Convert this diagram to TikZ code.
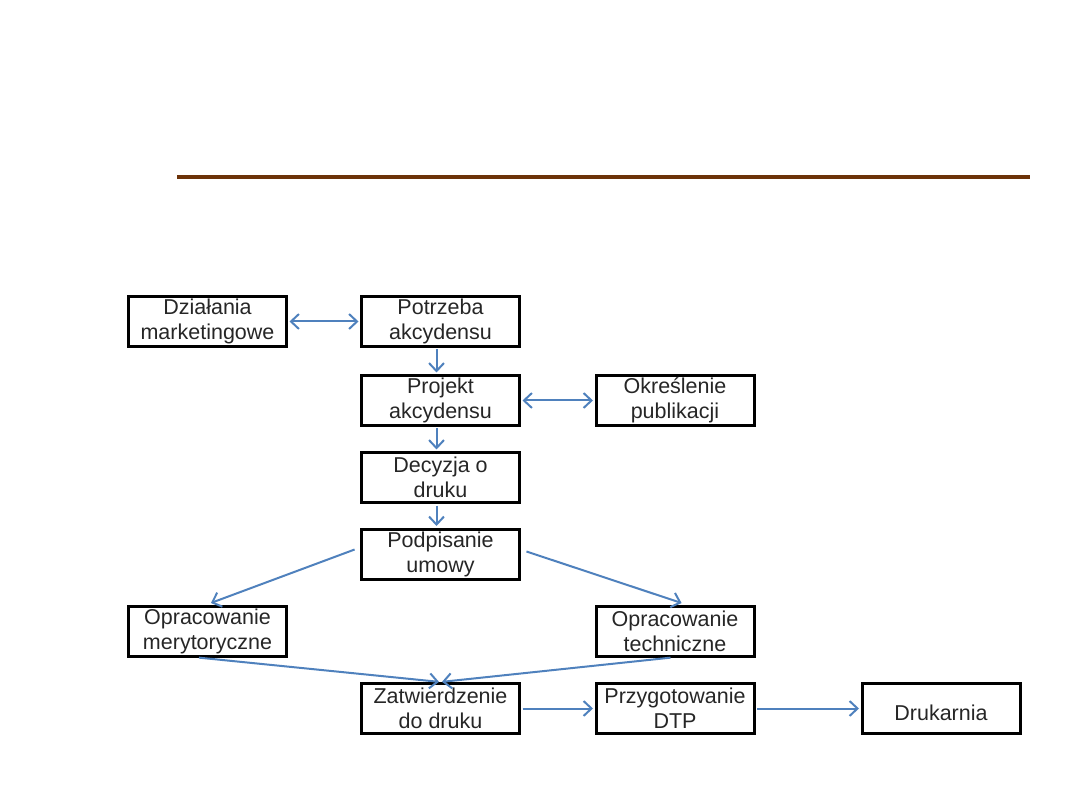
\documentclass[tikz,border=0pt]{standalone}
\usepackage{fontspec}
\setmainfont{Liberation Sans}
\usetikzlibrary{arrows.meta, calc}
\definecolor{linkblue}{RGB}{79,129,189}
\definecolor{rulebrown}{RGB}{108,50,8}

\begin{document}
\begin{tikzpicture}[x=1pt, y=-1pt, >={Straight Barb[length=8pt, width=15pt]},
    stage/.style={draw, line width=3pt, align=center, minimum width=158pt, minimum height=50pt, inner sep=1pt, text=black!85, font=\fontsize{21.5}{26}\selectfont},
    link/.style={draw=linkblue, line width=2pt, shorten >=1.5pt, shorten <=1.5pt}]
  \useasboundingbox (0,0) rectangle (1080,810);
  \draw[rulebrown, line width=4pt] (177,177) -- (1030,177);

  \node[stage] (marketing) at (207.5,321.5) {Działania\\[-1pt]marketingowe};
  \node[stage] (potrzeba) at (440.5,321.5) {Potrzeba\\[-1pt]akcydensu};
  \node[stage] (projekt) at (440.5,400.5) {Projekt\\[-1pt]akcydensu};
  \node[stage] (okreslenie) at (675,400.5) {Określenie\\[-1pt]publikacji};
  \node[stage] (decyzja) at (440.5,477.5) {Decyzja o\\[-1pt]druku};
  \node[stage] (umowa) at (440.5,554) {Podpisanie\\[-1pt]umowy};
  \node[stage] (merytor) at (207.5,631) {Opracowanie\\[-1pt]merytoryczne};
  \node[stage] (techn) at (675,631) {Opracowanie\\[-1pt]techniczne};
  \node[stage] (zatw) at (440.5,708.5) {Zatwierdzenie\\[-1pt]do druku};
  \node[stage] (dtp) at (675,708.5) {Przygotowanie\\[-1pt]DTP};
  \node[stage] (drukarnia) at (941,708.5) {\\[-1pt]Drukarnia};

  \draw[link, <->] (marketing.east) -- (potrzeba.west);
  \draw[link, ->] ($(potrzeba.south)+(-4,0)$) -- ($(projekt.north)+(-4,0)$);
  \draw[link, <->] (projekt.east) -- (okreslenie.west);
  \draw[link, ->] ($(projekt.south)+(-4,0)$) -- ($(decyzja.north)+(-4,0)$);
  \draw[link, ->] ($(decyzja.south)+(-4,0)$) -- ($(umowa.north)+(-4,0)$);
  \draw[link, ->] ($(umowa.west)+(-4,-5)$) -- ($(merytor.north)+(2,-1)$);
  \draw[link, ->] ($(umowa.east)+(4,-3)$) -- ($(techn.north)+(8,-1)$);
  \draw[link, ->] ($(merytor.south)+(-10,0)$) -- (zatw.north);
  \draw[link, ->] ($(techn.south)+(-3,0)$) -- (zatw.north);
  \draw[link, ->] (zatw.east) -- (dtp.west);
  \draw[link, ->] (dtp.east) -- (drukarnia.west);
\end{tikzpicture}
\end{document}
